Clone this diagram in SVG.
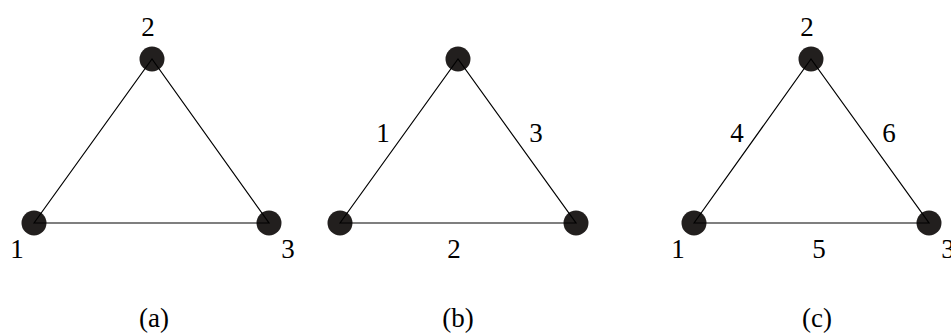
<svg xmlns="http://www.w3.org/2000/svg" width="951" height="335" viewBox="0 0 951 335">
<style>
.n{fill:#221f1e}
.e{stroke:#000;stroke-width:1.2;fill:none}
.t{font-family:"Liberation Serif","Times New Roman",serif;font-size:27px;fill:#000;text-anchor:middle}
</style>
<rect width="951" height="335" fill="#fff"/>
<g id="panel-a">
<g id="a-node1"><circle class="n" cx="34" cy="223" r="12.5"/><text class="t" x="17" y="258">1</text></g>
<g id="a-node2"><circle class="n" cx="152" cy="59" r="12.5"/><text class="t" x="148" y="36">2</text></g>
<g id="a-node3"><circle class="n" cx="269" cy="223" r="12.5"/><text class="t" x="288" y="258">3</text></g>
<g id="a-caption"><text class="t" x="154" y="327">(a)</text></g>
</g>
<g id="panel-b">
<g id="b-node1"><circle class="n" cx="340" cy="223" r="12.5"/></g>
<g id="b-node2"><circle class="n" cx="458" cy="59" r="12.5"/></g>
<g id="b-node3"><circle class="n" cx="576" cy="223" r="12.5"/></g>
<g id="b-caption"><text class="t" x="458" y="327">(b)</text></g>
</g>
<g id="panel-c">
<g id="c-node1"><circle class="n" cx="694" cy="223" r="12.5"/><text class="t" x="678" y="258">1</text></g>
<g id="c-node2"><circle class="n" cx="811" cy="59" r="12.5"/><text class="t" x="807" y="36">2</text></g>
<g id="c-node3"><circle class="n" cx="929" cy="223" r="12.5"/><text class="t" x="948" y="258">3</text></g>
<g id="c-caption"><text class="t" x="817" y="327">(c)</text></g>
</g>
<g id="connectors">
<path class="e" d="M34,223 L152,59 L269,223 Z"/>
<path class="e" d="M340,223 L458,59 L576,223 Z"/>
<path class="e" d="M694,223 L811,59 L929,223 Z"/>
<text class="t" x="383" y="142">1</text>
<text class="t" x="536" y="142">3</text>
<text class="t" x="454" y="258">2</text>
<text class="t" x="737" y="142">4</text>
<text class="t" x="889" y="142">6</text>
<text class="t" x="819" y="258">5</text>
</g>
</svg>
